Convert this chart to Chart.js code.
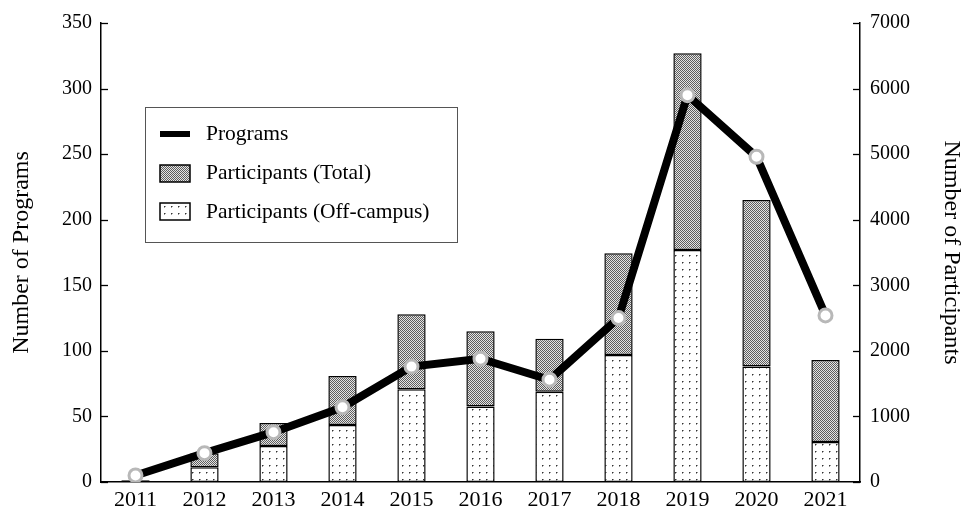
<!DOCTYPE html>
<html>
<head>
<meta charset="utf-8">
<script src="https://cdn.jsdelivr.net/npm/chart.js@4/dist/chart.umd.min.js"></script>
<style>
html,body{margin:0;padding:0;background:#fff;}
#wrap{position:relative;width:966px;height:512px;}
</style>
</head>
<body>
<div id="wrap"><canvas id="c" width="966" height="512"></canvas></div>
<script>
const years = ['2011','2012','2013','2014','2015','2016','2017','2018','2019','2020','2021'];
const programs = [5, 22, 38, 57, 88, 94, 78, 125, 295, 248, 127];
const participantsTotal = [25, 440, 900, 1615, 2560, 2300, 2185, 3490, 6540, 4300, 1860];
const participantsOffCampus = [5, 225, 550, 870, 1415, 1150, 1375, 1935, 3540, 1760, 610];
const leftTicks = [0, 50, 100, 150, 200, 250, 300, 350];
const rightTicks = [0, 1000, 2000, 3000, 4000, 5000, 6000, 7000];
const legendLabels = ['Programs', 'Participants (Total)', 'Participants (Off-campus)'];

const FONT = '"Liberation Serif", "Times New Roman", serif';

function makeHatch() {
  const p = document.createElement('canvas');
  p.width = 2; p.height = 2;
  const g = p.getContext('2d');
  g.fillStyle = '#e4e4e4'; g.fillRect(0,0,2,2);
  g.fillStyle = '#5e5e5e'; g.fillRect(0,0,1,1); g.fillRect(1,1,1,1);
  return g.createPattern(p, 'repeat');
}
function makeDots() {
  const p = document.createElement('canvas');
  p.width = 7; p.height = 7;
  const g = p.getContext('2d');
  g.fillStyle = '#fff'; g.fillRect(0,0,7,7);
  g.fillStyle = '#333';
  g.fillRect(3,3,1,1);
  g.fillStyle = '#999';
  g.fillRect(4,3,1,1); g.fillRect(3,4,1,1);
  return g.createPattern(p, 'repeat');
}
const hatch = makeHatch();
const dots = makeDots();

const decorPlugin = {
  id: 'decor',
  afterDraw(chart) {
    const ctx = chart.ctx;
    const ya = chart.scales.y, yb = chart.scales.y1;
    const area = chart.chartArea;
    ctx.save();
    ctx.strokeStyle = '#000';
    ctx.lineWidth = 1.3;
    leftTicks.forEach(v => {
      const py = Math.round(ya.getPixelForValue(v)) + 0.5;
      ctx.beginPath(); ctx.moveTo(area.left, py); ctx.lineTo(area.left + 7, py); ctx.stroke();
    });
    rightTicks.forEach(v => {
      const py = Math.round(yb.getPixelForValue(v)) + 0.5;
      ctx.beginPath(); ctx.moveTo(area.right, py); ctx.lineTo(area.right - 7, py); ctx.stroke();
    });
    // legend
    const bx = 145.5, by = 107.5, bw = 312, bh = 135;
    ctx.fillStyle = '#fff';
    ctx.fillRect(bx, by, bw, bh);
    ctx.lineWidth = 1;
    ctx.strokeStyle = '#555';
    ctx.strokeRect(bx, by, bw, bh);
    ctx.fillStyle = '#000';
    ctx.fillRect(160, 131, 30, 6);
    ctx.fillStyle = hatch;
    ctx.fillRect(160, 165, 30, 17);
    ctx.strokeStyle = '#000'; ctx.lineWidth = 1.5;
    ctx.strokeRect(160, 165, 30, 17);
    ctx.fillStyle = dots;
    ctx.fillRect(160, 203, 30, 17);
    ctx.strokeRect(160, 203, 30, 17);
    ctx.fillStyle = '#000';
    ctx.font = '21.5px ' + FONT;
    ctx.textBaseline = 'middle';
    ctx.textAlign = 'left';
    ctx.fillText(legendLabels[0], 206, 134);
    ctx.fillText(legendLabels[1], 206, 173);
    ctx.fillText(legendLabels[2], 206, 212);
    ctx.restore();
  }
};

new Chart(document.getElementById('c'), {
  data: {
    labels: years,
    datasets: [
      {
        type: 'line',
        label: legendLabels[0],
        data: programs,
        yAxisID: 'y',
        borderColor: '#000',
        borderWidth: 8,
        tension: 0,
        pointRadius: 6.5,
        pointBackgroundColor: '#fff',
        pointBorderColor: '#b8b8b8',
        pointBorderWidth: 3,
        order: 0
      },
      {
        type: 'bar',
        label: legendLabels[1],
        data: participantsTotal.map((t, i) => [participantsOffCampus[i], t]),
        yAxisID: 'y1',
        backgroundColor: hatch,
        borderColor: '#000',
        borderWidth: 1.5,
        borderSkipped: false,
        barPercentage: 0.41,
        categoryPercentage: 1,
        grouped: false,
        order: 1
      },
      {
        type: 'bar',
        label: legendLabels[2],
        data: participantsOffCampus,
        yAxisID: 'y1',
        backgroundColor: dots,
        borderColor: '#000',
        borderWidth: 1.5,
        borderSkipped: false,
        barPercentage: 0.41,
        categoryPercentage: 1,
        grouped: false,
        order: 2
      }
    ]
  },
  options: {
    responsive: false,
    animation: false,
    layout: { padding: { top: 23, left: 0, right: 0, bottom: 0 } },
    plugins: { legend: { display: false }, tooltip: { enabled: false } },
    scales: {
      x: {
        offset: true,
        grid: { display: false, drawTicks: false },
        border: { display: true, color: '#000', width: 1.5 },
        ticks: { color: '#000', font: { family: FONT, size: 22 }, padding: 5, maxRotation: 0 },
        afterFit(s) { s.height = 30; }
      },
      y: {
        position: 'left',
        min: 0, max: 350,
        afterBuildTicks(s) { s.ticks = leftTicks.map(v => ({ value: v })); },
        grid: { display: false, drawTicks: false },
        border: { display: true, color: '#000', width: 1.5 },
        ticks: { color: '#000', font: { family: FONT, size: 20 }, padding: 9, callback: v => String(v) },
        title: { display: true, text: 'Number of Programs', color: '#000', font: { family: FONT, size: 24 }, padding: { top: 7, bottom: 0 } },
        afterFit(s) { s.width = 101; }
      },
      y1: {
        position: 'right',
        min: 0, max: 7000,
        afterBuildTicks(s) { s.ticks = rightTicks.map(v => ({ value: v })); },
        grid: { display: false, drawTicks: false },
        border: { display: true, color: '#000', width: 1.5 },
        ticks: { color: '#000', font: { family: FONT, size: 20 }, padding: 10, callback: v => String(v) },
        title: { display: true, text: 'Number of Participants', color: '#000', font: { family: FONT, size: 24 }, padding: { top: 0, bottom: 0 } },
        afterFit(s) { s.width = 106; }
      }
    }
  },
  plugins: [decorPlugin]
});
</script>
</body>
</html>
